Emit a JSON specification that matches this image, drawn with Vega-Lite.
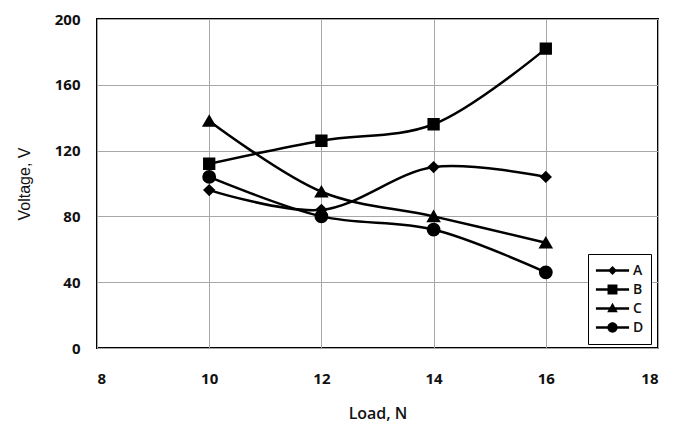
{
  "$schema": "https://vega.github.io/schema/vega-lite/v6.json",
  "width": 561,
  "height": 329,
  "autosize": "none",
  "padding": {"left": 97, "top": 19, "right": 26, "bottom": 76},
  "background": "white",
  "config": {
    "view": {"stroke": "black", "strokeWidth": 2},
    "font": "Open Sans",
    "axis": {
      "domain": false,
      "ticks": false,
      "gridColor": "#a8a8a8",
      "gridWidth": 1,
      "labelFont": "Open Sans",
      "labelFontSize": 15,
      "labelFontWeight": "bold",
      "labelColor": "#111",
      "titleFont": "Open Sans",
      "titleFontSize": 16,
      "titleFontWeight": 600,
      "titleColor": "#111"
    }
  },
  "data": {
    "values": [
      {"load": 10, "voltage": 96, "series": "A"},
      {"load": 12, "voltage": 84, "series": "A"},
      {"load": 14, "voltage": 110, "series": "A"},
      {"load": 16, "voltage": 104, "series": "A"},
      {"load": 10, "voltage": 112, "series": "B"},
      {"load": 12, "voltage": 126, "series": "B"},
      {"load": 14, "voltage": 136, "series": "B"},
      {"load": 16, "voltage": 182, "series": "B"},
      {"load": 10, "voltage": 138, "series": "C"},
      {"load": 12, "voltage": 95, "series": "C"},
      {"load": 14, "voltage": 80, "series": "C"},
      {"load": 16, "voltage": 64, "series": "C"},
      {"load": 10, "voltage": 104, "series": "D"},
      {"load": 12, "voltage": 80, "series": "D"},
      {"load": 14, "voltage": 72, "series": "D"},
      {"load": 16, "voltage": 46, "series": "D"}
    ]
  },
  "encoding": {
    "x": {
      "field": "load",
      "type": "quantitative",
      "scale": {"domain": [8, 18], "nice": false},
      "axis": {"values": [8, 10, 12, 14, 16, 18], "title": "Load, N", "labelPadding": 23, "titlePadding": 19}
    },
    "y": {
      "field": "voltage",
      "type": "quantitative",
      "scale": {"domain": [0, 200], "nice": false},
      "axis": {"values": [0, 40, 80, 120, 160, 200], "title": "Voltage, V", "labelPadding": 17, "titlePadding": 22, "titleFont": "Liberation Sans", "titleFontWeight": "normal", "titleFontSize": 16}
    }
  },
  "layer": [
    {
      "mark": {"type": "line", "interpolate": "catmull-rom", "stroke": "black", "strokeWidth": 2.5},
      "encoding": {"detail": {"field": "series"}}
    },
    {
      "mark": {"type": "point", "filled": true, "fill": "black", "stroke": "black", "opacity": 1},
      "encoding": {
        "shape": {
          "field": "series",
          "type": "nominal",
          "scale": {"domain": ["A", "B", "C", "D"], "range": ["diamond", "square", "triangle-up", "circle"]},
          "legend": null
        },
        "size": {
          "field": "series",
          "type": "nominal",
          "scale": {"domain": ["A", "B", "C", "D"], "range": [90, 140, 130, 130]},
          "legend": null
        }
      }
    },
    {
      "transform": [{"filter": "datum.load > 1000"}],
      "mark": {"type": "point", "filled": true, "fill": "black", "opacity": 1, "size": 1100},
      "encoding": {
        "shape": {
          "field": "series",
          "type": "nominal",
          "scale": {"domain": ["A", "B", "C", "D"], "range": [
            "M-1,-0.075H1V0.075H-1ZM0,-0.27L0.27,0L0,0.27L-0.27,0Z",
            "M-1,-0.075H1V0.075H-1ZM-0.3,-0.3H0.3V0.3H-0.3Z",
            "M-1,-0.075H1V0.075H-1ZM0,-0.34L0.32,0.22H-0.32Z",
            "M-1,-0.075H1V0.075H-1ZM0.31,0A0.31,0.31 0 1 1 -0.31,0A0.31,0.31 0 1 1 0.31,0Z"
          ]},
          "legend": {
            "title": null,
            "orient": "none",
            "legendX": 491,
            "legendY": 235,
            "strokeColor": "black",
            "fillColor": "white",
            "padding": 7,
            "symbolSize": 1100,
            "symbolFillColor": "black",
            "symbolOpacity": 1,
            "clipHeight": 19,
            "rowPadding": 0,
            "labelOffset": 3,
            "labelFont": "Open Sans",
            "labelFontSize": 14,
            "labelFontWeight": 600,
            "labelColor": "#111",
            "encode": {
              "legend": {"update": {"strokeWidth": {"value": 2}}}
            }
          }
        }
      }
    }
  ],
  "resolve": {"scale": {"shape": "independent"}, "legend": {"shape": "independent"}}
}
